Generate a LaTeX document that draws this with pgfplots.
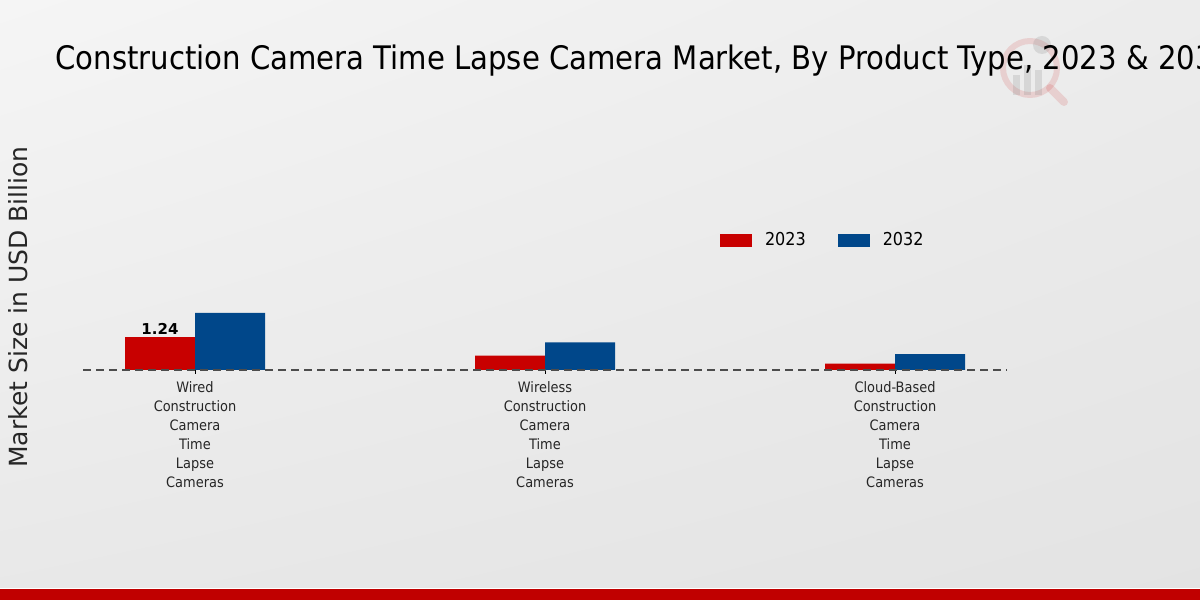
\documentclass[border=0pt]{standalone}
\usepackage{pgfplots}
\pgfplotsset{compat=1.18}
\usetikzlibrary{shadings}
\usepackage{fontspec}
\setmainfont{DejaVu Sans}
\newfontfamily\cond{DejaVu Sans Condensed}
\definecolor{r23}{RGB}{200,0,0}
\definecolor{b32}{RGB}{0,71,138}
\definecolor{band}{RGB}{192,0,0}
\definecolor{bgul}{RGB}{245,245,245}
\definecolor{bgur}{RGB}{236,236,236}
\definecolor{bgll}{RGB}{232,232,232}
\definecolor{bglr}{RGB}{227,227,227}
\begin{document}
\begin{tikzpicture}[x=0.5pt,y=0.5pt]
\useasboundingbox (0,0) rectangle (1200,600);
\clip (0,0) rectangle (1200,600);
\shade[upper left=bgul, upper right=bgur, lower left=bgll, lower right=bglr] (0,0) rectangle (1200,600);
\fill[band] (0,0) rectangle (1200,11);
\draw[white, line width=0.5pt] (0,11.5) -- (1200,11.5);
% faint logo
\draw[r23, opacity=0.12, line width=3pt] (1030,532) circle (27);
\draw[r23, opacity=0.12, line width=4pt, line cap=round] (1050,512) -- (1064,498);
\fill[gray, opacity=0.2] (1013,505) rectangle (1020,525);
\fill[gray, opacity=0.2] (1024,505) rectangle (1031,535);
\fill[gray, opacity=0.2] (1035,505) rectangle (1042,530);
\fill[gray, opacity=0.2] (1042,555) circle (9);
% title
\node[anchor=west, inner sep=0pt, font=\cond\fontsize{16.2}{19}\selectfont] at (55,539) {Construction Camera Time Lapse Camera Market, By Product Type, 2023 \& 2032};
% y label
\node[rotate=90, inner sep=0pt, font=\fontsize{12.5}{15}\selectfont, text=black!85] at (18,293) {Market Size in USD Billion};
\begin{axis}[
  at={(41.5pt,115pt)}, anchor=south west,
  width=462pt, height=135pt, scale only axis,
  xmin=-0.32, xmax=2.32, ymin=0, ymax=10.15,
  axis y line=none, axis x line*=bottom, x axis line style={draw=none},
  xtick={0,1,2},
  xticklabels={{Wired\\Construction\\Camera\\Time\\Lapse\\Cameras},{Wireless\\Construction\\Camera\\Time\\Lapse\\Cameras},{Cloud-Based\\Construction\\Camera\\Time\\Lapse\\Cameras}},
  xticklabel style={align=center, font=\cond\fontsize{7.2}{9.5}\selectfont, text=black!85},
  xtick align=outside, major tick length=2pt, tick style={black, line width=0.5pt},
  ybar=0pt, bar width=35pt,
  clip=false,
  legend columns=2,
  legend style={at={(0.689,0.481)}, anchor=west, draw=none, fill=none, inner sep=0pt,
    font=\cond\fontsize{8.9}{11}\selectfont,
    /tikz/every odd column/.append style={column sep=4.5pt},
    /tikz/every even column/.append style={column sep=14pt}},
]
\addplot[fill=r23, draw=none, legend image code/.code={\fill[r23] (0pt,-3.25pt) rectangle (16pt,3.25pt);}] coordinates {(0,1.24) (1,0.54) (2,0.24)};
\addplot[fill=b32, draw=none, legend image code/.code={\fill[b32] (0pt,-3.25pt) rectangle (16pt,3.25pt);}] coordinates {(0,2.15) (1,1.04) (2,0.60)};
\legend{2023,2032}
\draw[dash pattern=on 4pt off 2.5pt, black!70, line width=0.6pt] (axis cs:-0.32,0) -- (axis cs:2.32,0);
\node[font=\bfseries\fontsize{7.5}{9}\selectfont, anchor=south, inner sep=0pt, xshift=-17.5pt, yshift=1.2pt] at (axis cs:0,1.24) {1.24};
\end{axis}
\end{tikzpicture}
\end{document}
